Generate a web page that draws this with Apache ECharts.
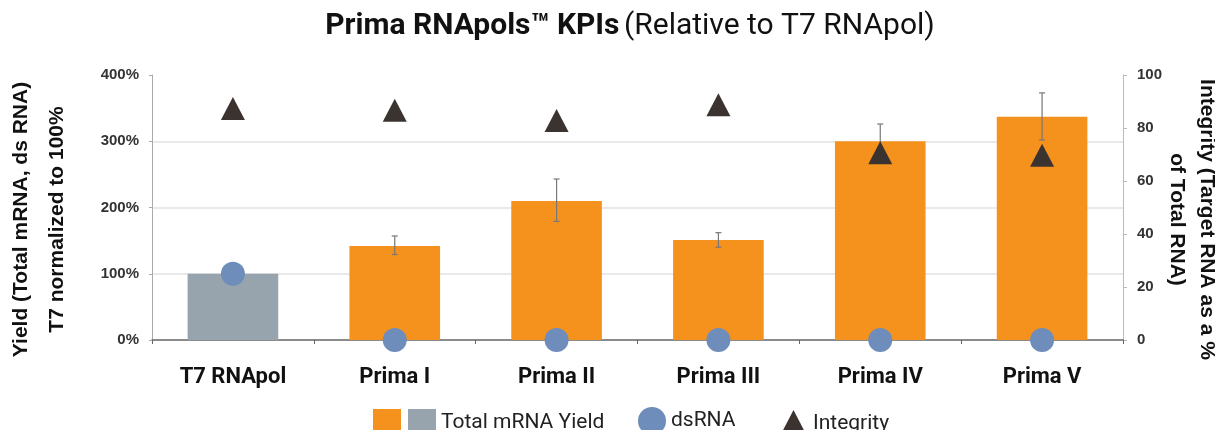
<!DOCTYPE html>
<html>
<head>
<meta charset="utf-8">
<script src="https://cdn.jsdelivr.net/npm/echarts@6/dist/echarts.min.js"></script>
<style>
  html, body { margin: 0; padding: 0; background: #fff; }
  #chart { width: 1215px; height: 430px; }
</style>
</head>
<body>
<div id="chart"></div>
<script>
// 数据
const categories = ["T7 RNApol", "Prima I", "Prima II", "Prima III", "Prima IV", "Prima V"];
const t7Yield = [100, "-", "-", "-", "-", "-"];
const primaYield = ["-", 142, 210, 151, 300, 337];
const errLow = [null, 129, 179, 140, 274, 302];
const errHigh = [null, 157, 243, 162, 326, 373];
const dsRNA = [100, 0, 0, 0, 0, 0];
const integrity = [87.4, 86.7, 82.8, 88.8, 70.7, 69.7];

const errData = [];
categories.forEach((c, i) => {
  if (errLow[i] != null) errData.push([i, errLow[i], errHigh[i]]);
});

const myChart = echarts.init(document.getElementById("chart"));
const font = "Roboto, 'Noto Sans', sans-serif";
const arial = "'Liberation Sans', Arial, sans-serif";

myChart.setOption({
  animation: false,
  textStyle: { fontFamily: font },
  title: {
    text: "{b|Prima RNApols™ KPIs} {n|(Relative to T7 RNApol)}",
    left: 625,
    textAlign: "center",
    top: 6,
    textStyle: {
      fontWeight: "normal",
      rich: {
        b: { fontFamily: font, fontSize: 30, fontWeight: "bold", color: "#111" },
        n: { fontFamily: font, fontSize: 30, fontWeight: "normal", color: "#111" },
      },
    },
  },
  legend: [
    {
      left: 368, top: 404, itemWidth: 28, itemHeight: 28,
      data: [{ name: "Prima yield", icon: "rect" }],
      formatter: () => "",
      selectedMode: false,
    },
    {
      left: 403, top: 404, itemWidth: 28, itemHeight: 28,
      data: [{ name: "Total mRNA Yield", icon: "rect" }],
      textStyle: { fontSize: 21, color: "#222", fontFamily: font },
      selectedMode: false,
    },
    {
      left: 633, top: 402, itemWidth: 28, itemHeight: 28,
      data: [{ name: "dsRNA", icon: "circle" }],
      textStyle: { fontSize: 21, color: "#222", fontFamily: font },
      selectedMode: false,
    },
    {
      left: 774, top: 405, itemWidth: 29, itemHeight: 28,
      data: [{ name: "Integrity", icon: "triangle" }],
      textStyle: { fontSize: 21, color: "#222", fontFamily: font },
      selectedMode: false,
    },
  ],
  grid: { left: 152, right: 92, top: 75, bottom: 90, outerBoundsMode: "none", containLabel: false },
  xAxis: {
    type: "category",
    data: categories,
    axisLine: { lineStyle: { color: "#666", width: 1.5 } },
    axisTick: { show: true, length: 4, lineStyle: { color: "#666" } },
    axisLabel: { fontSize: 22, fontWeight: "bold", color: "#111", margin: 26, fontFamily: font },
  },
  yAxis: [
    {
      type: "value",
      min: 0, max: 400, interval: 100,
      name: "Yield (Total mRNA, ds RNA)\nT7 normalized to 100%",
      nameLocation: "middle",
      nameGap: 77,
      nameMoveOverlap: false,
      nameTextStyle: {
        fontSize: 21, fontWeight: "bold", color: "#111", lineHeight: 36, fontFamily: arial,
        padding: [0, 24, 0, 0],
      },
      axisLine: { show: true, lineStyle: { color: "#aaa" } },
      axisTick: { show: true, length: 3, lineStyle: { color: "#aaa" } },
      axisLabel: { formatter: "{value}%", fontSize: 15, fontWeight: "bold", color: "#333", margin: 13, fontFamily: arial },
      splitLine: {
        show: true,
        lineStyle: { color: ["rgba(0,0,0,0)", "#e2e2e2", "#e2e2e2", "#e2e2e2", "rgba(0,0,0,0)"], width: 1.5 },
      },
    },
    {
      type: "value",
      min: 0, max: 100, interval: 20,
      name: "Integrity (Target RNA as a %\nof Total RNA)",
      nameLocation: "middle",
      nameRotate: -90,
      nameGap: 39,
      nameMoveOverlap: false,
      nameTextStyle: {
        fontSize: 21, fontWeight: "bold", color: "#111", lineHeight: 30, fontFamily: arial,
        padding: [0, 0, 0, 24],
      },
      axisLine: { show: true, lineStyle: { color: "#bbb" } },
      axisTick: { show: true, length: 4, lineStyle: { color: "#bbb" } },
      axisLabel: { fontSize: 15, fontWeight: "bold", color: "#333", margin: 14, fontFamily: arial },
      splitLine: { show: false },
    },
  ],
  series: [
    {
      name: "Prima yield",
      type: "bar",
      data: primaYield,
      barWidth: "56%",
      z: 2,
      itemStyle: { color: "#F5921E" },
    },
    {
      name: "Total mRNA Yield",
      type: "bar",
      data: t7Yield,
      barWidth: "56%",
      barGap: "-100%",
      z: 2,
      itemStyle: { color: "#97A4AE" },
    },
    {
      name: "Yield error",
      type: "custom",
      z: 3,
      data: errData,
      renderItem: function (params, api) {
        const x = api.value(0);
        const lo = api.coord([x, api.value(1)]);
        const hi = api.coord([x, api.value(2)]);
        const cap = 3;
        const st = { stroke: "#777", lineWidth: 1.2 };
        return {
          type: "group",
          children: [
            { type: "line", shape: { x1: hi[0], y1: hi[1], x2: lo[0], y2: lo[1] }, style: st },
            { type: "line", shape: { x1: hi[0] - cap, y1: hi[1], x2: hi[0] + cap, y2: hi[1] }, style: st },
            { type: "line", shape: { x1: lo[0] - cap, y1: lo[1], x2: lo[0] + cap, y2: lo[1] }, style: st },
          ],
        };
      },
    },
    {
      name: "Integrity",
      type: "scatter",
      yAxisIndex: 1,
      data: integrity,
      symbol: "triangle",
      symbolSize: [24, 23],
      z: 4,
      clip: false,
      itemStyle: { color: "#3A332F", opacity: 1 },
    },
    {
      name: "dsRNA",
      type: "scatter",
      data: dsRNA,
      symbol: "circle",
      symbolSize: 24,
      z: 5,
      clip: false,
      itemStyle: { color: "#6E8DBA", opacity: 1 },
    },
  ],
});
</script>
</body>
</html>
